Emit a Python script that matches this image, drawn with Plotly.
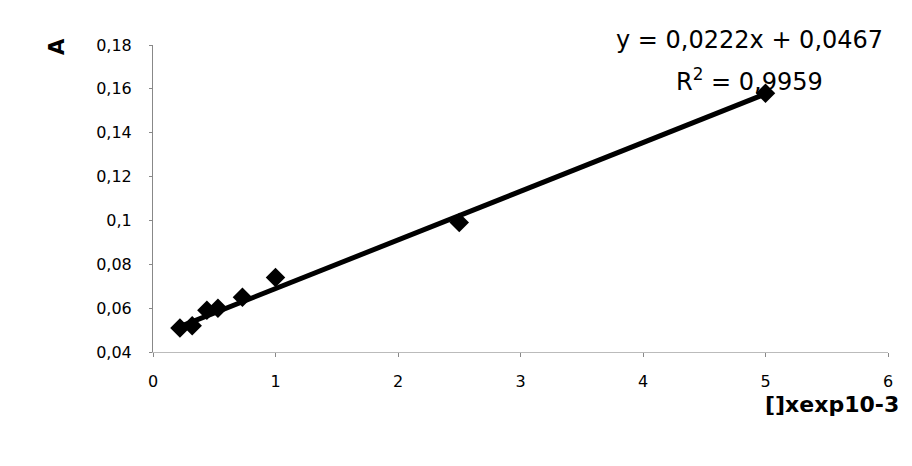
import plotly.graph_objects as go

# data
conc = [0.22, 0.32, 0.44, 0.53, 0.73, 1.0, 2.5, 5.0]
absorb = [0.051, 0.052, 0.059, 0.060, 0.065, 0.074, 0.099, 0.158]
slope = 0.0222
intercept = 0.0467
eq_text = "y = 0,0222x + 0,0467"
r2_text = "R<sup>2</sup> = 0,9959"
x_title = "[]xexp10-3"
y_title = "A"
x_ticks = [0, 1, 2, 3, 4, 5, 6]
y_ticks = [0.04, 0.06, 0.08, 0.1, 0.12, 0.14, 0.16, 0.18]

trend_x = [min(conc), max(conc)]
trend_y = [slope * v + intercept for v in trend_x]

fig = go.Figure()
fig.add_trace(go.Scatter(x=conc, y=absorb, mode="markers",
                         marker=dict(symbol="diamond", size=15, color="black"),
                         showlegend=False))
fig.add_trace(go.Scatter(x=trend_x, y=trend_y, mode="lines",
                         line=dict(color="black", width=5),
                         showlegend=False))

tick_font = dict(family="DejaVu Sans", size=16, color="black")
fig.update_layout(
    width=904, height=458,
    margin=dict(l=145, r=24, t=37, b=114),
    paper_bgcolor="white", plot_bgcolor="white",
    separators=", ",
    xaxis=dict(range=[0, 6], tickvals=x_ticks, showgrid=False, zeroline=False,
               showline=True, linecolor="#bbbbbb", linewidth=1,
               ticks="outside", ticklen=4, tickcolor="#888888",
               tickfont=tick_font, ticklabelstandoff=11),
    yaxis=dict(range=[0.04, 0.18], tickvals=y_ticks, showgrid=False, zeroline=False,
               showline=True, linecolor="#888888", linewidth=1,
               ticks="outside", ticklen=3, tickcolor="#888888",
               tickfont=tick_font, ticklabelstandoff=14),
    annotations=[
        dict(text=eq_text, xref="paper", yref="paper", x=0.811, y=1.016,
             showarrow=False, xanchor="center", yanchor="middle",
             font=dict(family="DejaVu Sans", size=24, color="black")),
        dict(text=r2_text, xref="paper", yref="paper", x=0.811, y=0.886,
             showarrow=False, xanchor="center", yanchor="middle",
             font=dict(family="DejaVu Sans", size=24, color="black")),
        dict(text="<b>" + y_title + "</b>", xref="paper", yref="paper",
             x=-0.1306, y=0.9935, textangle=-90, showarrow=False,
             xanchor="center", yanchor="middle",
             font=dict(family="DejaVu Sans", size=21, color="black")),
        dict(text="<b>" + x_title + "</b>", xref="paper", yref="paper",
             x=0.924, y=-0.1726, showarrow=False,
             xanchor="center", yanchor="middle",
             font=dict(family="DejaVu Sans", size=22, color="black")),
    ],
)

fig.write_html("out.html")
